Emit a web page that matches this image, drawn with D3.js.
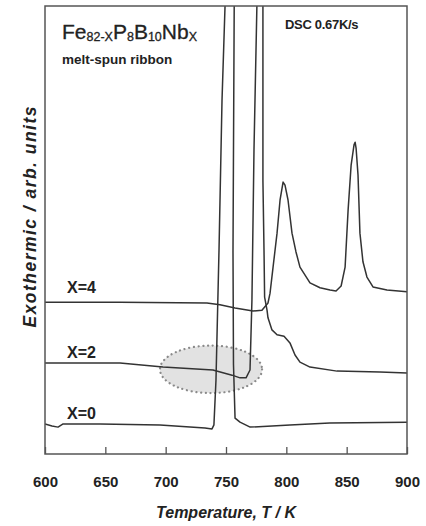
<!DOCTYPE html>
<html>
<head>
<meta charset="utf-8">
<script src="https://cdn.jsdelivr.net/npm/d3@7/dist/d3.min.js"></script>
<style>
  html, body { margin: 0; padding: 0; background: #fff; }
  svg { display: block; }
  text { font-family: Arial, "Liberation Sans", Helvetica, sans-serif; fill: #222; }
</style>
</head>
<body>
<svg id="chart" width="426" height="526"></svg>
<script>
// ---------- DATA (temperature in K, signal in arbitrary units) ----------
const xTicks = [600, 650, 700, 750, 800, 850, 900];
const seriesNames = ["X=0", "X=2", "X=4"];

const tempX0 = [600, 605.8, 610.8, 615, 645.6, 695.3, 732.6, 738.4, 740, 741.7, 744.2, 746.7, 749.2, 749.8, 756.6, 756.8, 755.8, 756.2, 757.5, 761.6, 770, 803, 836, 900];
const valX0  = [6.7, 6.25, 6.0, 6.7, 6.7, 6.5, 5.8, 5.6, 6.5, 16.5, 45.5, 79, 100, 115, 115, 100, 45, 20, 8, 7.1, 6.0, 6.5, 6.9, 7.1];

const tempX2 = [600, 662.2, 697.8, 739.2, 755, 761.6, 766.6, 769.9, 771.5, 773.2, 775.6, 776.2, 780.3, 780.6, 780.6, 781.5, 782, 784, 784.8, 788.1, 792.3, 798.1, 803, 807.2, 811.3, 819.6, 842, 877.6, 900];
const valX2  = [20.3, 20.3, 19.4, 18.75, 17.6, 17.0, 17.0, 18.75, 34.4, 67.9, 100, 115, 115, 100, 61, 45.5, 35.0, 32.1, 30.4, 27.7, 26.6, 26.3, 24.8, 22.1, 20.5, 19.4, 18.5, 18.3, 18.1];

const tempX4 = [600, 662.2, 734.2, 745, 757.5, 772.4, 779.8, 784.8, 786.5, 789, 792.3, 794.8, 797.3, 798.9, 801.4, 804.7, 808, 811.3, 819.6, 827.9, 836.2, 841.2, 845.4, 848.7, 851.2, 853.7, 856.1, 857, 857.8, 859.4, 861, 863.5, 866.8, 871.8, 883.4, 900];
const valX4  = [33.9, 33.9, 33.7, 33.3, 32.6, 31.9, 32.1, 33.7, 35.9, 41.7, 49.3, 56.7, 60.7, 60, 56.7, 49.3, 45.1, 41.7, 38.2, 37.1, 36.6, 36.4, 37.5, 41.7, 54.5, 64.5, 69, 69.6, 68.3, 62.3, 49.3, 42.9, 39.5, 37.3, 36.6, 36.2];

// highlighted region (centre T, centre signal, half-width K, half-height units)
const ellipseCenter = [737.6, 18.9];
const ellipseRadii  = [42.3, 5.3];

// ---------- LAYOUT ----------
const svg = d3.select("#chart");
const mLeft = 45, mRight = 407, mTop = 6, mBottom = 454;

const x = d3.scaleLinear().domain([600, 900]).range([mLeft, mRight]);
const y = d3.scaleLinear().domain([0, 100]).range([mBottom, mTop]);

svg.append("defs").append("clipPath").attr("id", "plotclip")
  .append("rect").attr("x", mLeft).attr("y", mTop)
  .attr("width", mRight - mLeft).attr("height", mBottom - mTop);

// ellipse highlight (behind curves)
svg.append("ellipse")
  .attr("cx", x(ellipseCenter[0]))
  .attr("cy", y(ellipseCenter[1]))
  .attr("rx", x(ellipseCenter[0] + ellipseRadii[0]) - x(ellipseCenter[0]))
  .attr("ry", y(ellipseCenter[1]) - y(ellipseCenter[1] + ellipseRadii[1]))
  .attr("fill", "#e2e2e2")
  .attr("stroke", "#8a8a8a")
  .attr("stroke-width", 2.2)
  .attr("stroke-linecap", "round")
  .attr("stroke-dasharray", "0.1,4.6");

// curves
const lineFree = d3.line().x(d => x(d[0])).y(d => y(d[1])).curve(d3.curveLinear);
const series = [
  d3.zip(tempX0, valX0),
  d3.zip(tempX2, valX2),
  d3.zip(tempX4, valX4)
];
const g = svg.append("g").attr("clip-path", "url(#plotclip)");
series.forEach(s => {
  g.append("path")
    .attr("d", lineFree(s))
    .attr("fill", "none")
    .attr("stroke", "#333")
    .attr("stroke-width", 1.5)
    .attr("stroke-linejoin", "round");
});

// frame
svg.append("rect")
  .attr("x", mLeft).attr("y", mTop)
  .attr("width", mRight - mLeft).attr("height", mBottom - mTop)
  .attr("fill", "none").attr("stroke", "#555").attr("stroke-width", 1.5);

// x axis ticks (inward) and labels
const xAxis = d3.axisBottom(x).tickValues(xTicks).tickSizeInner(-7).tickSizeOuter(0).tickPadding(22);
const ax = svg.append("g").attr("transform", `translate(0,${mBottom})`).call(xAxis);
ax.select(".domain").remove();
ax.selectAll(".tick line").attr("stroke", "#555").attr("stroke-width", 1.3);
ax.selectAll(".tick text")
  .attr("font-size", 15).attr("font-weight", "bold")
  .attr("font-family", "Arial, 'Liberation Sans', sans-serif")
  .attr("fill", "#222");

// axis titles
svg.append("text")
  .attr("x", (mLeft + mRight) / 2).attr("y", 518)
  .attr("text-anchor", "middle")
  .attr("font-size", 16).attr("font-weight", "bold").attr("font-style", "italic")
  .text("Temperature, T / K");

svg.append("text")
  .attr("transform", "translate(36,217) rotate(-90)")
  .attr("text-anchor", "middle")
  .attr("font-size", 17.5).attr("font-weight", "bold").attr("font-style", "italic")
  .attr("textLength", 221).attr("lengthAdjust", "spacing")
  .text("Exothermic  /  arb. units");

// series labels
const labelBaselines = [419, 358, 293];
seriesNames.forEach((n, i) => {
  svg.append("text")
    .attr("x", 67).attr("y", labelBaselines[i])
    .attr("font-size", 16).attr("font-weight", "bold")
    .text(n);
});

// composition title
const t = svg.append("text").attr("x", 62).attr("y", 39).attr("font-size", 21)
  .attr("stroke", "#222").attr("stroke-width", 0.3);
t.append("tspan").text("Fe");
t.append("tspan").attr("font-size", 12.5).attr("dy", 2).text("82-X");
t.append("tspan").attr("dy", -2).text("P");
t.append("tspan").attr("font-size", 12.5).attr("dy", 2).text("8");
t.append("tspan").attr("dy", -2).text("B");
t.append("tspan").attr("font-size", 12.5).attr("dy", 2).text("10");
t.append("tspan").attr("dy", -2).text("Nb");
t.append("tspan").attr("font-size", 12.5).attr("dy", 2).text("X");

svg.append("text")
  .attr("x", 62).attr("y", 64)
  .attr("font-size", 13.5).attr("font-weight", "bold")
  .text("melt-spun ribbon");

svg.append("text")
  .attr("x", 285).attr("y", 29)
  .attr("font-size", 13).attr("font-weight", "bold")
  .attr("letter-spacing", "-0.3")
  .text("DSC 0.67K/s");
</script>
</body>
</html>
